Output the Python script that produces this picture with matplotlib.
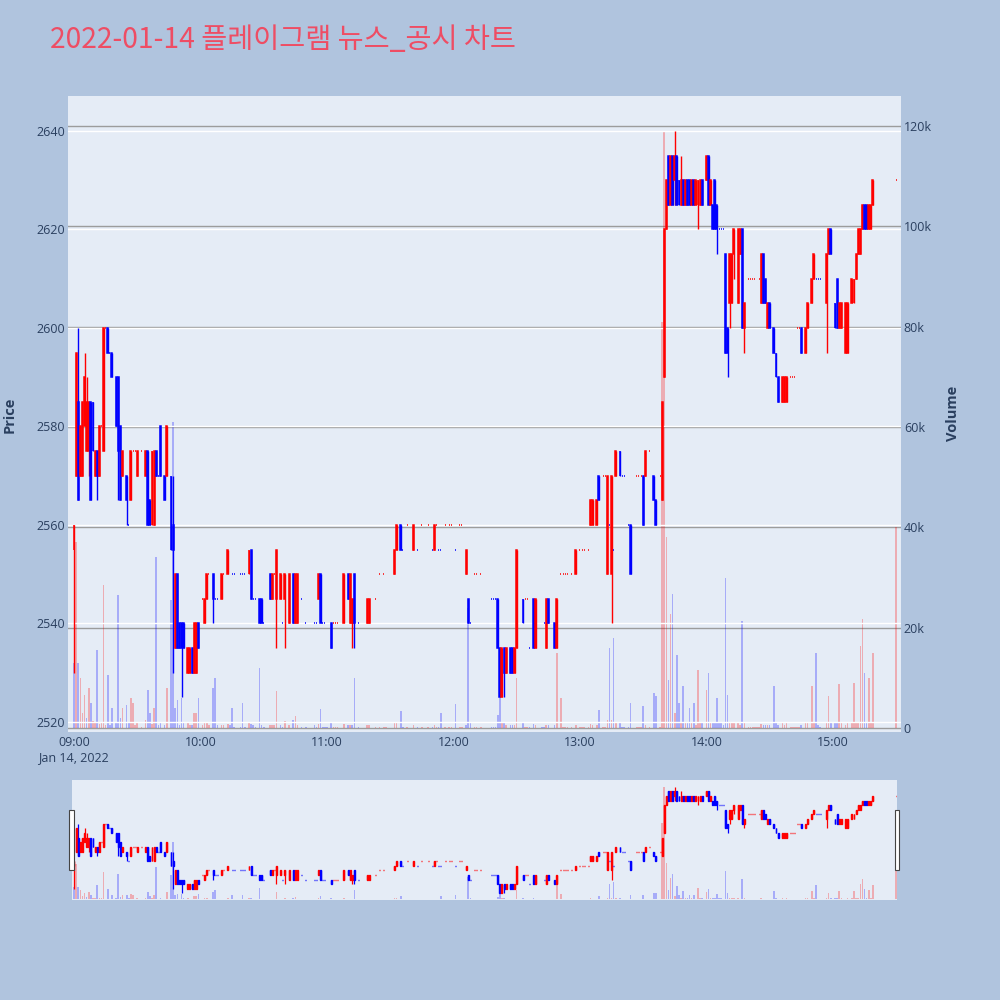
import matplotlib
matplotlib.use('Agg')
import matplotlib.pyplot as plt
from matplotlib.patches import Rectangle

plt.rcParams['font.family'] = ['Open Sans', 'DejaVu Sans']

# ---------------- data (minutes after 09:00, OHLC, volume in thousands) -------------
minute = [0, 1, 2, 3, 4, 5, 6, 7, 8, 9, 10, 11, 12, 13, 14, 15, 16, 17, 18, 20,
          21, 22, 23, 25, 26, 27, 28, 29, 30, 32, 34, 35, 36, 37, 38, 39, 40, 41, 43, 44,
          46, 47, 48, 49, 50, 51, 52, 54, 55, 56, 57, 58, 59,
          61, 62, 63, 64, 66, 67, 68, 70, 71, 73, 74, 75, 76, 79, 80, 81, 83, 84, 85, 86,
          88, 89, 90, 93, 94, 95, 96, 98, 99, 100, 102, 104, 105, 106, 108, 110, 114, 115,
          116, 117, 118, 119, 120, 122, 123, 124, 125, 128, 130, 131, 132, 133, 135, 139,
          140, 143, 145, 147, 148, 152, 153, 155, 156, 158, 161, 163, 165, 168, 170, 171,
          172, 173, 174, 176, 178, 179, 181, 183, 184, 186, 187, 188, 190, 191, 193,
          198, 199, 200, 201, 202, 203, 204, 205, 207, 208, 209, 210, 213, 214, 215, 216,
          218, 219, 222, 223, 224, 225, 228, 229, 231, 232, 233, 234, 236, 238, 240, 241,
          242, 244, 245, 246, 248, 249, 251, 252, 253, 254, 255, 256, 257, 259, 260, 261, 263, 264,
          267, 268, 269, 270, 271, 273, 275, 276, 278, 279, 280, 281,
          282, 283, 284, 285, 286, 287, 288, 289, 290, 291, 292, 293, 294, 295, 296, 297,
          298, 300, 301, 302, 303, 304, 305, 306, 307, 308, 309, 310, 311, 312, 313, 315,
          316, 317, 318, 320, 321, 322, 323, 324, 325, 326, 327, 328, 329, 330, 332, 333,
          334, 336, 337, 338, 340, 341, 342, 343, 344, 345, 347, 348, 350, 351, 352, 353,
          354, 357, 358, 359, 361, 362, 363, 364, 366, 367, 369, 370, 371, 372, 373, 374,
          375, 376, 377, 378, 379, 390]

open_ = [2555, 2570, 2585, 2570, 2570, 2580, 2575, 2575, 2585, 2585, 2570, 2575, 2570, 2580, 2575, 2600, 2600, 2595, 2595, 2590,
         2590, 2580, 2570, 2570, 2560, 2565, 2575, 2575, 2570, 2575, 2570, 2575, 2565, 2560, 2560, 2575, 2570, 2580, 2570, 2570,
         2570, 2560, 2535, 2550, 2540, 2540, 2540, 2530, 2530, 2535, 2530, 2530, 2540,
         2545, 2540, 2545, 2550, 2550, 2545, 2545, 2545, 2550, 2550, 2550, 2550, 2550, 2550, 2550, 2550, 2550, 2555, 2545, 2545,
         2545, 2545, 2540, 2550, 2545, 2550, 2545, 2545, 2540, 2545, 2540, 2550, 2540, 2540, 2545, 2540, 2540, 2540,
         2545, 2550, 2540, 2540, 2540, 2540, 2540, 2540, 2540, 2540, 2550, 2540, 2540, 2550, 2540, 2540,
         2540, 2545, 2550, 2550, 2550, 2550, 2555, 2560, 2555, 2560, 2555, 2555, 2560, 2560, 2555, 2555,
         2560, 2555, 2555, 2560, 2560, 2560, 2555, 2560, 2560, 2550, 2545, 2540, 2550, 2550, 2550,
         2545, 2545, 2545, 2545, 2535, 2525, 2535, 2530, 2535, 2535, 2530, 2535, 2545, 2545, 2545, 2535,
         2545, 2535, 2540, 2540, 2535, 2545, 2540, 2535, 2550, 2550, 2550, 2550, 2550, 2550, 2555, 2555,
         2555, 2555, 2560, 2560, 2560, 2570, 2570, 2570, 2550, 2560, 2550, 2555, 2570, 2575, 2570, 2570, 2560, 2560,
         2570, 2570, 2570, 2570, 2570, 2575, 2570, 2565, 2570, 2565, 2590, 2620,
         2635, 2625, 2635, 2630, 2635, 2630, 2625, 2630, 2625, 2630, 2630, 2625, 2630, 2625, 2625, 2625,
         2630, 2630, 2635, 2625, 2625, 2630, 2625, 2620, 2620, 2620, 2615, 2600, 2605, 2605, 2615, 2605,
         2615, 2620, 2600, 2610, 2610, 2610, 2610, 2610, 2610, 2605, 2615, 2610, 2600, 2605, 2600, 2595,
         2590, 2585, 2585, 2585, 2590, 2590, 2590, 2600, 2600, 2600, 2595, 2600, 2605, 2610, 2610, 2610,
         2610, 2605, 2615, 2620, 2605, 2610, 2600, 2600, 2595, 2595, 2605, 2605, 2610, 2615, 2615, 2620,
         2625, 2625, 2620, 2620, 2625, 2630]

high = [2560, 2595, 2600, 2580, 2585, 2595, 2590, 2585, 2585, 2585, 2575, 2575, 2580, 2580, 2600, 2600, 2600, 2595, 2595, 2590,
        2590, 2580, 2575, 2570, 2560, 2575, 2575, 2575, 2575, 2575, 2575, 2575, 2565, 2575, 2575, 2575, 2570, 2580, 2570, 2580,
        2570, 2570, 2550, 2550, 2540, 2540, 2540, 2535, 2535, 2535, 2540, 2540, 2540,
        2545, 2545, 2550, 2550, 2550, 2545, 2545, 2550, 2550, 2555, 2550, 2550, 2550, 2550, 2550, 2550, 2555, 2555, 2545, 2545,
        2545, 2545, 2540, 2550, 2550, 2550, 2555, 2550, 2540, 2550, 2550, 2550, 2550, 2550, 2545, 2540, 2540, 2540,
        2550, 2550, 2540, 2540, 2540, 2540, 2540, 2540, 2540, 2550, 2550, 2550, 2545, 2550, 2540, 2545,
        2545, 2545, 2550, 2550, 2550, 2555, 2560, 2560, 2555, 2560, 2560, 2555, 2560, 2560, 2555, 2560,
        2560, 2555, 2555, 2560, 2560, 2560, 2555, 2560, 2560, 2555, 2545, 2540, 2550, 2550, 2550,
        2545, 2545, 2545, 2545, 2535, 2535, 2535, 2535, 2535, 2535, 2535, 2555, 2545, 2545, 2545, 2535,
        2545, 2545, 2540, 2540, 2545, 2545, 2540, 2545, 2550, 2550, 2550, 2550, 2550, 2555, 2555, 2555,
        2555, 2555, 2565, 2565, 2565, 2570, 2570, 2570, 2570, 2560, 2570, 2555, 2575, 2575, 2570, 2570, 2560, 2560,
        2570, 2570, 2570, 2570, 2575, 2575, 2570, 2565, 2570, 2585, 2620, 2630,
        2635, 2635, 2635, 2640, 2635, 2630, 2635, 2630, 2630, 2630, 2630, 2630, 2630, 2630, 2630, 2630,
        2630, 2635, 2635, 2630, 2625, 2630, 2625, 2620, 2620, 2620, 2615, 2600, 2615, 2615, 2620, 2620,
        2620, 2620, 2605, 2610, 2610, 2610, 2610, 2610, 2610, 2615, 2615, 2610, 2605, 2605, 2600, 2595,
        2590, 2590, 2590, 2590, 2590, 2590, 2590, 2600, 2600, 2600, 2600, 2605, 2610, 2615, 2610, 2610,
        2610, 2615, 2620, 2620, 2605, 2610, 2605, 2605, 2605, 2605, 2610, 2610, 2615, 2620, 2620, 2625,
        2625, 2625, 2625, 2625, 2630, 2630]

low = [2530, 2570, 2565, 2570, 2570, 2580, 2575, 2570, 2565, 2575, 2570, 2565, 2570, 2580, 2575, 2600, 2595, 2595, 2590, 2580,
       2565, 2565, 2570, 2560, 2560, 2565, 2575, 2575, 2570, 2575, 2570, 2560, 2560, 2560, 2560, 2570, 2570, 2570, 2565, 2570,
       2555, 2530, 2535, 2535, 2535, 2525, 2535, 2530, 2530, 2530, 2530, 2530, 2535,
       2545, 2540, 2545, 2550, 2540, 2545, 2545, 2545, 2550, 2550, 2550, 2550, 2550, 2550, 2550, 2550, 2550, 2545, 2545, 2545,
       2540, 2540, 2540, 2545, 2545, 2550, 2535, 2545, 2540, 2535, 2540, 2540, 2540, 2540, 2545, 2540, 2540, 2540,
       2545, 2540, 2540, 2540, 2540, 2535, 2540, 2540, 2540, 2540, 2545, 2540, 2535, 2535, 2540, 2540,
       2540, 2545, 2550, 2550, 2550, 2550, 2555, 2555, 2555, 2560, 2555, 2555, 2560, 2560, 2555, 2555,
       2560, 2555, 2555, 2560, 2560, 2560, 2555, 2560, 2560, 2550, 2540, 2540, 2550, 2550, 2550,
       2545, 2545, 2545, 2535, 2525, 2525, 2525, 2530, 2530, 2530, 2530, 2535, 2540, 2545, 2545, 2535,
       2535, 2535, 2540, 2540, 2535, 2540, 2535, 2535, 2550, 2550, 2550, 2550, 2550, 2550, 2555, 2555,
       2555, 2555, 2560, 2560, 2560, 2565, 2570, 2570, 2550, 2560, 2540, 2555, 2570, 2570, 2570, 2570, 2560, 2550,
       2570, 2570, 2570, 2560, 2570, 2575, 2565, 2560, 2570, 2565, 2590, 2620,
       2625, 2625, 2625, 2625, 2625, 2625, 2625, 2625, 2625, 2625, 2625, 2625, 2625, 2625, 2620, 2625,
       2625, 2630, 2625, 2625, 2620, 2620, 2615, 2620, 2620, 2620, 2595, 2590, 2600, 2605, 2610, 2605,
       2615, 2600, 2595, 2610, 2610, 2610, 2610, 2610, 2610, 2605, 2605, 2605, 2600, 2600, 2595, 2590,
       2585, 2585, 2585, 2585, 2590, 2590, 2590, 2600, 2600, 2595, 2595, 2600, 2605, 2610, 2610, 2610,
       2610, 2595, 2615, 2615, 2600, 2600, 2600, 2600, 2595, 2595, 2605, 2605, 2610, 2615, 2615, 2620,
       2620, 2620, 2620, 2620, 2625, 2630]

close = [2560, 2595, 2565, 2580, 2585, 2590, 2585, 2585, 2565, 2575, 2575, 2570, 2580, 2580, 2600, 2600, 2595, 2595, 2590, 2580,
         2575, 2565, 2575, 2565, 2560, 2575, 2575, 2575, 2575, 2575, 2575, 2560, 2560, 2575, 2575, 2570, 2570, 2570, 2565, 2580,
         2555, 2555, 2550, 2535, 2535, 2535, 2535, 2535, 2535, 2530, 2540, 2540, 2535,
         2545, 2545, 2550, 2550, 2545, 2545, 2545, 2550, 2550, 2555, 2550, 2550, 2550, 2550, 2550, 2550, 2555, 2545, 2545, 2545,
         2540, 2540, 2540, 2545, 2550, 2550, 2555, 2550, 2540, 2550, 2550, 2540, 2550, 2550, 2545, 2540, 2540, 2540,
         2550, 2540, 2540, 2540, 2540, 2535, 2540, 2540, 2540, 2550, 2545, 2550, 2545, 2540, 2540, 2545,
         2545, 2545, 2550, 2550, 2550, 2555, 2560, 2555, 2555, 2560, 2560, 2555, 2560, 2560, 2555, 2560,
         2560, 2555, 2555, 2560, 2560, 2560, 2555, 2560, 2560, 2555, 2540, 2540, 2550, 2550, 2550,
         2545, 2545, 2545, 2535, 2525, 2535, 2530, 2535, 2530, 2530, 2535, 2555, 2540, 2545, 2545, 2535,
         2535, 2545, 2540, 2540, 2545, 2540, 2535, 2545, 2550, 2550, 2550, 2550, 2550, 2555, 2555, 2555,
         2555, 2555, 2565, 2565, 2565, 2565, 2570, 2570, 2570, 2560, 2570, 2555, 2575, 2570, 2570, 2570, 2560, 2550,
         2570, 2570, 2570, 2560, 2575, 2575, 2565, 2560, 2570, 2585, 2620, 2630,
         2625, 2635, 2625, 2635, 2625, 2625, 2630, 2625, 2630, 2625, 2625, 2630, 2625, 2630, 2630, 2630,
         2625, 2635, 2625, 2630, 2620, 2620, 2620, 2620, 2620, 2620, 2595, 2595, 2615, 2615, 2620, 2620,
         2620, 2600, 2605, 2610, 2610, 2610, 2610, 2610, 2610, 2615, 2605, 2605, 2605, 2600, 2595, 2590,
         2585, 2590, 2590, 2590, 2590, 2590, 2590, 2600, 2600, 2595, 2600, 2605, 2610, 2615, 2610, 2610,
         2610, 2615, 2620, 2615, 2600, 2600, 2605, 2605, 2605, 2605, 2610, 2610, 2615, 2620, 2620, 2625,
         2620, 2620, 2625, 2625, 2630, 2630]

volume_k = [13, 37, 13, 10, 3, 6.5, 2, 8, 5, 1.4, 1, 15.5, 0.8, 1.2, 28.5, 0.6, 10.5, 0.5, 4, 1.2,
            26.5, 2, 4, 4.5, 1, 6, 5, 0.5, 1, 0.2, 1.5, 7.5, 3, 0.8, 4, 34, 0.5, 1, 0.5, 8,
            25.5, 61, 4, 5.5, 0.5, 6, 1, 1, 0.5, 0.5, 3, 3, 6,
            0.5, 1, 1, 0.5, 8, 10, 0.5, 0.5, 0.5, 0.8, 0.5, 4, 0.2, 0.2, 5, 0.2, 1, 0.8, 0.5, 0.2,
            12, 0.5, 0.2, 0.5, 0.5, 0.5, 7.4, 0.5, 0.2, 1.4, 0.5, 1.5, 2.4, 0.5, 0.2, 0.2, 0.5, 0.2,
            0.8, 3.8, 0.2, 0.2, 0.2, 1, 0.2, 0.2, 0.2, 0.8, 0.5, 0.5, 0.5, 10, 0.2, 0.5,
            0.5, 0.2, 0.2, 0.2, 0.2, 1.2, 1, 3.4, 0.2, 0.2, 0.5, 0.2, 0.2, 0.2, 0.2, 0.5,
            0.2, 0.2, 3, 0.2, 0.2, 0.2, 4.8, 0.2, 0.2, 0.5, 24, 1.2, 0.2, 0.2, 0.2,
            0.2, 0.2, 0.2, 2.6, 6, 1, 1, 0.5, 0.5, 0.5, 0.5, 10, 1, 0.2, 0.2, 0.2,
            0.8, 0.5, 0.2, 0.2, 0.5, 0.5, 0.5, 15, 6, 0.2, 0.2, 0.2, 0.2, 0.5, 0.2, 0.2,
            0.2, 0.2, 0.8, 0.5, 0.5, 3.6, 0.2, 0.2, 1.5, 16, 1.5, 18, 1, 1, 0.2, 0.2, 0.2, 5,
            0.2, 0.2, 0.2, 4.3, 0.5, 0.2, 7, 6.4, 0.2, 81, 119, 38,
            9.5, 22.7, 26.8, 3, 14.5, 5, 1, 8.4, 1, 1, 4, 1, 5, 0.5, 11.5, 1,
            1, 7.6, 11, 1, 1, 1, 6, 1, 1, 0.5, 30, 6.6, 1, 1, 1, 1,
            0.5, 21.4, 1, 0.2, 0.2, 0.2, 0.2, 0.2, 0.2, 0.8, 0.5, 0.5, 0.5, 0.5, 8.4, 1,
            0.5, 1, 0.5, 1, 0.2, 0.2, 0.2, 0.2, 0.2, 0.5, 1, 1, 8.3, 1, 15, 0.5,
            0.2, 1, 6.3, 1, 1, 1, 8.7, 1, 0.5, 1, 1, 9, 1, 1, 16.4, 21.8,
            11, 1, 10, 1, 15, 40]

price_ticks = [2520, 2540, 2560, 2580, 2600, 2620, 2640]
volume_ticks = [0, 20, 40, 60, 80, 100, 120]
volume_tick_labels = ['0', '20k', '40k', '60k', '80k', '100k', '120k']
time_ticks = [0, 60, 120, 180, 240, 300, 360]
time_tick_labels = ['09:00', '10:00', '11:00', '12:00', '13:00', '14:00', '15:00']
date_label = 'Jan 14, 2022'
title_text = '2022-01-14 플레이그램 뉴스_공시 차트'

# ---------------- style ----------------
RED = '#FF0000'
BLUE = '#0000FF'
PAPER = '#B0C4DE'
PLOTBG = '#E5ECF6'
FONTC = '#2a3f5f'

# candle direction (plotly rule: equal open/close -> compare with previous close)
inc = []
prev_c, prev_d = None, True
for o, c in zip(open_, close):
    if c > o:
        d = True
    elif c < o:
        d = False
    elif prev_c is None:
        d = True
    elif c > prev_c:
        d = True
    elif c < prev_c:
        d = False
    else:
        d = prev_d
    inc.append(d)
    prev_c, prev_d = c, d
candle_colors = [RED if d else BLUE for d in inc]

vol_colors = [BLUE]
for i in range(1, len(close)):
    if close[i] > close[i - 1]:
        vol_colors.append(RED)
    elif close[i] < close[i - 1]:
        vol_colors.append(BLUE)
    else:
        vol_colors.append(candle_colors[i])

W, H = 1000, 1000
fig = plt.figure(figsize=(10, 10), dpi=100, facecolor=PAPER)


def rect(x0, y0, x1, y1):
    return [x0 / W, 1 - y1 / H, (x1 - x0) / W, (y1 - y0) / H]


PRICE_LIM = (2517.97, 2647.1)
VOL_LIM = (-0.8, 126.0)


def draw_candles(ax, wick_lw, edge_lw, body_w):
    ax.vlines(minute, low, high, colors=candle_colors, lw=wick_lw, zorder=3)
    heights = [c - o for o, c in zip(open_, close)]
    ax.bar(minute, heights, bottom=open_, width=body_w, color=candle_colors,
           edgecolor=candle_colors, lw=edge_lw, zorder=4)


# ---------------- main chart ----------------
axv = fig.add_axes(rect(68, 96, 901, 732))
axv.set_facecolor(PLOTBG)
axv.bar(minute, volume_k, width=0.75, color=vol_colors, alpha=0.27, lw=0, zorder=2)
axv.set_ylim(*VOL_LIM)
axv.set_yticks(volume_ticks)
axv.set_yticklabels(volume_tick_labels)
axv.yaxis.tick_right()
axv.tick_params(axis='y', length=0, pad=2, labelsize=9, labelcolor=FONTC)
axv.tick_params(axis='x', length=0, labelbottom=False)
axv.grid(axis='y', color='#9c9c9c', lw=1)
axv.set_axisbelow(True)
for s in axv.spines.values():
    s.set_visible(False)

axp = fig.add_axes(rect(68, 96, 901, 732), sharex=axv)
axp.patch.set_alpha(0)
axp.set_ylim(*PRICE_LIM)
axp.set_yticks(price_ticks)
axp.tick_params(axis='y', length=0, pad=2, labelsize=9, labelcolor=FONTC)
axp.grid(axis='y', color='white', lw=1)
axp.set_axisbelow(True)
for s in axp.spines.values():
    s.set_visible(False)
draw_candles(axp, 1.0, 1.1, 0.45)
axp.set_xlim(-2.85, 392.3)
axp.set_xticks(time_ticks)
axp.set_xticklabels(time_tick_labels)
axp.tick_params(axis='x', length=0, pad=3, labelsize=9, labelcolor=FONTC)

fig.text(73 / W, 1 - 758 / H, date_label, ha='center', va='center', fontsize=9, color=FONTC)
fig.text(10 / W, 1 - 415 / H, 'Price', rotation=90, ha='center', va='center',
         fontsize=10.5, color=FONTC, fontweight='bold')
fig.text(953 / W, 1 - 413 / H, 'Volume', rotation=90, ha='center', va='center',
         fontsize=10.5, color=FONTC, fontweight='bold')
fig.text(50 / W, 1 - 40 / H, title_text, ha='left', va='center', fontsize=20.4,
         color='#EE4D64', family=['Noto Sans CJK KR', 'DejaVu Sans'])

# ---------------- range slider ----------------
sv = fig.add_axes(rect(71.5, 780, 897, 900))
sv.set_facecolor(PLOTBG)
sv.bar(minute, volume_k, width=0.75, color=vol_colors, alpha=0.27, lw=0)
sv.set_ylim(*VOL_LIM)
sv.set_xlim(-1.19, 390.4)
sv.set_xticks([])
sv.set_yticks([])
for s in sv.spines.values():
    s.set_visible(False)

sp = fig.add_axes(rect(71.5, 780, 897, 900), sharex=sv)
sp.patch.set_alpha(0)
sp.set_ylim(*PRICE_LIM)
draw_candles(sp, 0.9, 1.0, 0.45)
sp.set_xticks([])
sp.set_yticks([])
for s in sp.spines.values():
    s.set_visible(False)

for gx in (69.0, 894.5):
    fig.patches.append(Rectangle((gx / W, 1 - 870 / H), 4.5 / W, 60 / H,
                                 transform=fig.transFigure, facecolor='white',
                                 edgecolor='#444444', lw=0.8, zorder=10))

fig.savefig('out.png', dpi=100, facecolor=PAPER)
